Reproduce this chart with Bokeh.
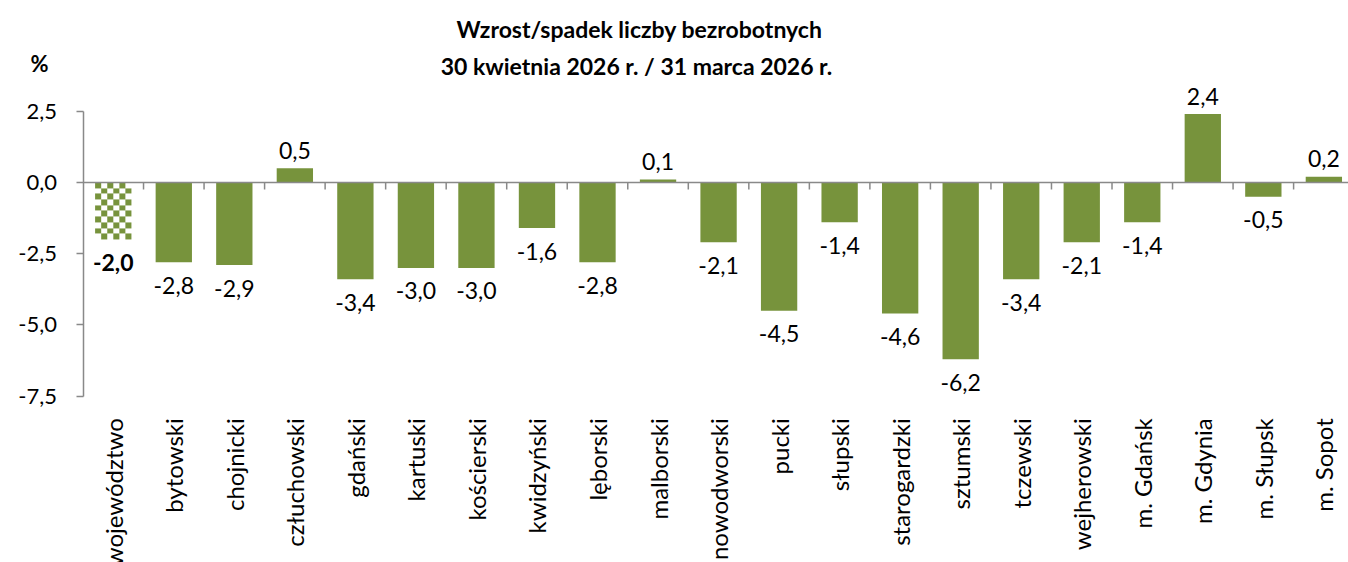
import math
import numpy as np
from bokeh.plotting import figure
from bokeh.models import (Range1d, FixedTicker, CustomJSTickFormatter, Label, ColumnDataSource)
from bokeh.core.properties import value
from bokeh.embed import file_html
from bokeh.resources import INLINE

categories = ["województwo", "bytowski", "chojnicki", "człuchowski", "gdański", "kartuski",
              "kościerski", "kwidzyński", "lęborski", "malborski", "nowodworski", "pucki",
              "słupski", "starogardzki", "sztumski", "tczewski", "wejherowski", "m. Gdańsk",
              "m. Gdynia", "m. Słupsk", "m. Sopot"]
values = [-2.0, -2.8, -2.9, 0.5, -3.4, -3.0, -3.0, -1.6, -2.8, 0.1, -2.1, -4.5,
          -1.4, -4.6, -6.2, -3.4, -2.1, -1.4, 2.4, -0.5, 0.2]
y_ticks = [-7.5, -5.0, -2.5, 0.0, 2.5]
title_lines = ["Wzrost/spadek liczby bezrobotnych", "30 kwietnia 2026 r. / 31 marca 2026 r."]
unit_label = "%"

FONT = "Lato"
GREEN = "#77933C"
GRAY = "#898989"

# layout (pixels inside the figure)
W, H = 1348, 562
AX_X = 82.5          # y-axis position
AX_TOP, AX_BOT = 110.7, 395.7
Y0, Y1 = -7.5, 2.5
ppu = (AX_BOT - AX_TOP) / (Y1 - Y0)
cat_px = 60.53

x_start = -AX_X / cat_px
x_end = (W - AX_X) / cat_px
y_end = Y1 + AX_TOP / ppu
y_start = Y0 - (H - AX_BOT) / ppu

p = figure(width=W, height=H, output_backend="svg", toolbar_location=None, title=None,
           x_range=Range1d(x_start, x_end), y_range=Range1d(y_start, y_end),
           min_border=0, min_border_left=0, min_border_right=0, min_border_top=0,
           min_border_bottom=0)
p.outline_line_color = None
p.xgrid.grid_line_color = None
p.ygrid.grid_line_color = None
p.background_fill_color = "white"
p.border_fill_color = "white"

n = len(categories)
xs = [i + 0.5 for i in range(n)]
BAR_W = 0.6

src = ColumnDataSource(dict(x=xs[1:], top=values[1:]))
p.vbar(x="x", top="top", bottom=0, width=BAR_W, source=src, fill_color=GREEN, line_color=None)

# checkered first bar (pattern image sized to the bar, cells ~6px)
cell = 6
cols = max(1, round(BAR_W * cat_px / cell))
rows = max(1, round(abs(values[0]) * ppu / cell))
sub = 10
rr, cc = np.mgrid[0:rows * sub, 0:cols * sub]
is_green = ((rr // sub) + (cc // sub)) % 2 == 0
rgba = np.zeros((rows * sub, cols * sub, 4), dtype=np.uint8)
rgba[is_green] = (0x77, 0x93, 0x3C, 255)
rgba[~is_green] = (255, 255, 255, 255)
img = rgba.view(dtype=np.uint32).reshape((rows * sub, cols * sub))[::-1].copy()
p.image_rgba(image=[img], x=xs[0] - BAR_W / 2, y=values[0], dw=BAR_W, dh=-values[0])

# zero line with ticks at category boundaries
p.segment(x0=[0], x1=[x_end], y0=[0], y1=[0], line_color=GRAY, line_width=1.5)
bounds = list(range(1, n + 1))
p.segment(x0=bounds, x1=bounds, y0=[0] * len(bounds), y1=[-7 / ppu] * len(bounds),
          line_color=GRAY, line_width=1.5)

# data labels
lab = ColumnDataSource(dict(
    x=xs,
    y=values,
    text=[f"{v:.1f}".replace(".", ",") for v in values],
    yoff=[-18 if v > 0 else 23 for v in values],
    style=["bold"] + ["normal"] * (n - 1),
))
p.text(x="x", y="y", text="text", y_offset="yoff", source=lab, text_align="center",
       text_baseline="middle", text_font=value(FONT), text_font_size="23px",
       text_font_style="style", text_color="black")

# x axis (category names), fixed at the bottom of the value range
xa = p.xaxis[0]
xa.fixed_location = Y0
xa.ticker = FixedTicker(ticks=xs)
xa.formatter = CustomJSTickFormatter(args=dict(names=categories),
                                     code="return names[Math.floor(tick)];")
xa.major_label_orientation = math.pi / 2
xa.axis_line_color = None
xa.major_tick_line_color = None
xa.minor_tick_line_color = None
xa.major_label_text_font = FONT
xa.major_label_text_font_size = "24px"
xa.major_label_text_color = "black"
xa.major_label_standoff = 16

# y axis fixed at x = 0
ya = p.yaxis[0]
ya.fixed_location = 0
ya.bounds = (Y0, Y1)
ya.ticker = FixedTicker(ticks=y_ticks)
ya.formatter = CustomJSTickFormatter(code="return tick.toFixed(1).replace('.', ',');")
ya.axis_line_color = GRAY
ya.axis_line_width = 1.5
ya.major_tick_line_color = GRAY
ya.major_tick_line_width = 1.5
ya.major_tick_out = 7
ya.major_tick_in = 0
ya.minor_tick_line_color = None
ya.major_label_text_font = FONT
ya.major_label_text_font_size = "22px"
ya.major_label_text_color = "black"
ya.major_label_standoff = 19

# title lines and unit (screen units: from frame left / bottom; frame == canvas)
for txt, cx, cy in [(title_lines[0], 639, 28.5), (title_lines[1], 636, 65)]:
    p.add_layout(Label(x=cx, y=H - cy, x_units="screen", y_units="screen", text=txt,
                       text_align="center", text_baseline="middle", text_font=FONT,
                       text_font_style="bold", text_font_size="23px", text_color="black"))
p.add_layout(Label(x=39, y=H - 62.5, x_units="screen", y_units="screen", text=unit_label,
                   text_align="center", text_baseline="middle", text_font=FONT,
                   text_font_style="bold", text_font_size="22px", text_color="black"))

open("out.html", "w").write(file_html(p, INLINE))
